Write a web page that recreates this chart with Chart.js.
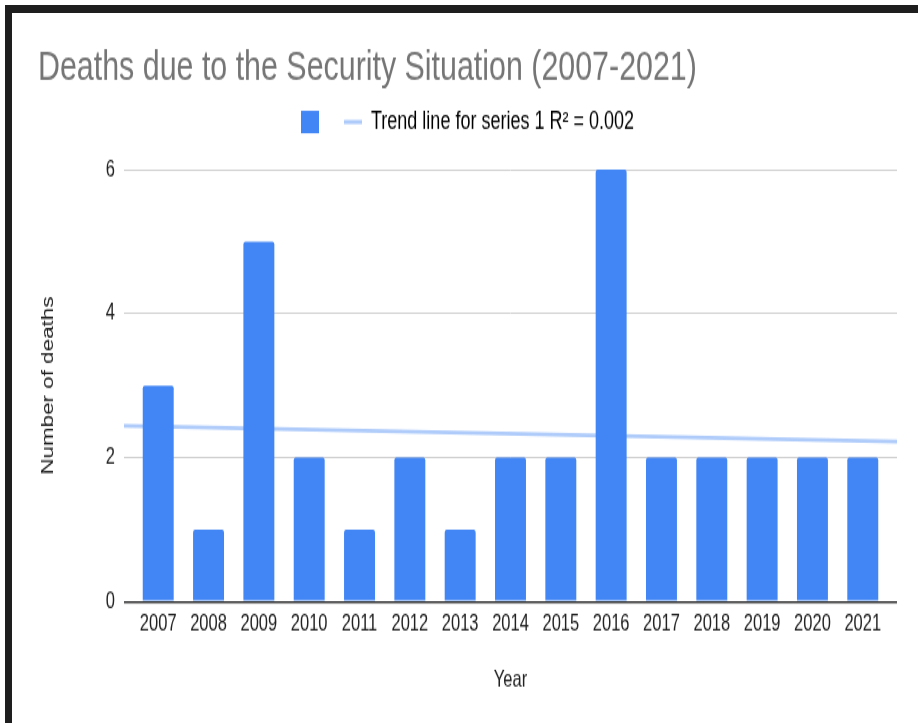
<!DOCTYPE html>
<html>
<head>
<meta charset="utf-8">
<script src="https://cdn.jsdelivr.net/npm/chart.js@4/dist/chart.umd.min.js"></script>
<style>
  html, body { margin: 0; padding: 0; background: #fff; width: 918px; height: 723px; overflow: hidden; }
  #stage { position: absolute; left: 0; top: 0; width: 918px; height: 516px; transform-origin: 0 0; transform: scaleY(1.4012); }
  #frame { position: absolute; left: 5px; top: 5px; width: 913px; height: 718px; box-sizing: border-box;
           border-top: 8px solid #1e1e1e; border-left: 7px solid #1e1e1e; pointer-events: none; }
</style>
</head>
<body>
<div id="stage"><canvas id="c" width="918" height="516"></canvas></div>
<div id="frame"></div>
<script>
// Yearly figures
const years  = ['2007', '2008', '2009', '2010', '2011', '2012', '2013', '2014', '2015', '2016', '2017', '2018', '2019', '2020', '2021'];
const deaths = [3, 1, 5, 2, 1, 2, 1, 2, 2, 6, 2, 2, 2, 2, 2];
const yTicks = [0, 2, 4, 6];

const chartTitle = 'Deaths due to the Security Situation (2007-2021)';
const xTitle = 'Year';
const yTitle = 'Number of deaths';

const FONT = '"Liberation Sans", Arial, sans-serif';
const BAR = '#4285F4';
const TREND = '#aecbfa';

// Least-squares trend line over the yearly values
const n = deaths.length;
const mx = (n - 1) / 2;
const my = deaths.reduce((a, b) => a + b, 0) / n;
let sxy = 0, sxx = 0, syy = 0;
deaths.forEach((v, i) => { sxy += (i - mx) * (v - my); sxx += (i - mx) ** 2; syy += (v - my) ** 2; });
const slope = sxy / sxx;
const intercept = my - slope * mx;
const r2 = (sxy * sxy) / (sxx * syy);
const trendLabel = 'Trend line for series 1 R\u00B2 = ' + r2.toFixed(3);

// Horizontal extent of the plot, in category units
const X_MIN = -0.68, X_MAX = (n - 1) + 0.68;
const trendAt = x => intercept + slope * x;

new Chart(document.getElementById('c'), {
  data: {
    datasets: [
      {
        type: 'bar',
        label: '',
        data: deaths.map((v, i) => ({ x: i, y: v })),
        backgroundColor: BAR,
        borderRadius: 2,
        categoryPercentage: 1,
        barPercentage: 0.615,
        order: 0
      },
      {
        type: 'line',
        label: trendLabel,
        data: [{ x: X_MIN, y: trendAt(X_MIN) }, { x: X_MAX, y: trendAt(X_MAX) }],
        borderColor: TREND,
        borderWidth: 2.8,
        pointRadius: 0,
        tension: 0,
        order: 1
      }
    ]
  },
  options: {
    responsive: false,
    animation: false,
    devicePixelRatio: 1,
    layout: { padding: { left: 38, right: 21, top: 0, bottom: 0 } },
    plugins: {
      title: {
        display: true,
        text: chartTitle,
        align: 'start',
        color: '#757575',
        font: { family: FONT, size: 30.4, weight: 'normal', lineHeight: 0.9 },
        padding: { top: 34.7, bottom: 0 }
      },
      subtitle: {
        display: true,
        text: '',
        weight: 500,
        font: { family: FONT, size: 10, lineHeight: 1.5 },
        padding: 0
      },
      legend: {
        display: true,
        position: 'top',
        labels: {
          usePointStyle: true,
          pointStyleWidth: 18,
          boxHeight: 16,
          padding: 16,
          color: '#222',
          font: { family: FONT, size: 18 },
          generateLabels: () => [
            { text: '', fillStyle: BAR, strokeStyle: BAR, lineWidth: 0, pointStyle: 'rect', datasetIndex: 0, hidden: false },
            { text: trendLabel, fillStyle: TREND, strokeStyle: TREND, lineWidth: 3, pointStyle: 'line', datasetIndex: 1, hidden: false }
          ]
        }
      },
      tooltip: { enabled: false }
    },
    scales: {
      x: {
        type: 'linear',
        position: 'bottom',
        offset: false,
        min: X_MIN,
        max: X_MAX,
        grid: { display: false, drawTicks: false, offset: false },
        border: { display: false },
        ticks: {
          stepSize: 1,
          includeBounds: false,
          autoSkip: false,
          maxRotation: 0,
          padding: 6,
          color: '#222',
          font: { family: FONT, size: 16.5 },
          callback: v => (Number.isInteger(v) && years[v] !== undefined) ? years[v] : ''
        },
        title: {
          display: true,
          text: xTitle,
          color: '#222',
          font: { family: FONT, size: 16.5 },
          padding: { top: 0, bottom: 20.5 }
        },
        afterFit: s => { s.height = 86.7; }
      },
      y: {
        min: yTicks[0],
        max: yTicks[yTicks.length - 1],
        grid: {
          drawTicks: false,
          color: c => c.tick && c.tick.value === 0 ? '#333' : '#d0d0d0',
          lineWidth: c => c.tick && c.tick.value === 0 ? 1.5 : 1
        },
        border: { display: false },
        ticks: {
          stepSize: yTicks[1] - yTicks[0],
          padding: 9,
          color: '#222',
          font: { family: FONT, size: 16.5 }
        },
        title: {
          display: true,
          text: yTitle,
          color: '#222',
          font: { family: FONT, size: 16 },
          padding: { top: 1, bottom: 0 }
        },
        afterFit: s => { s.width = 86; }
      }
    }
  }
});
</script>
</body>
</html>
